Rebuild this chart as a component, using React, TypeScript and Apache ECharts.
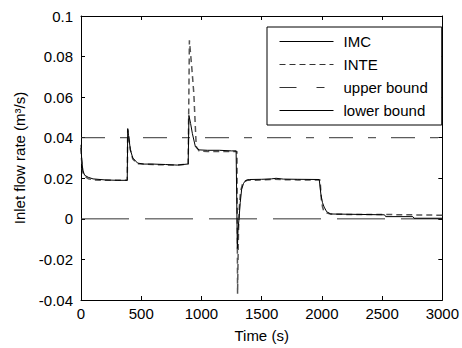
import React, { useEffect, useRef } from "react";
import * as echarts from "echarts";

const seriesNames = ["IMC", "INTE", "upper bound", "lower bound"];

const imcTime = [0, 5, 15, 30, 60, 100, 200, 300, 384, 388, 395, 410, 430, 470, 520, 600, 700, 800, 882, 890, 896, 910, 925, 950, 980, 1050, 1150, 1250, 1288, 1298, 1304, 1312, 1322, 1334, 1350, 1362, 1380, 1400, 1500, 1580, 1620, 1680, 1800, 1978, 1992, 2005, 2019, 2040, 2074, 2300, 2520, 2530, 2755, 2765, 3000];
const imcValue = [0.0365, 0.03, 0.024, 0.0215, 0.0205, 0.0197, 0.0192, 0.019, 0.019, 0.0445, 0.041, 0.034, 0.03, 0.0275, 0.027, 0.027, 0.0268, 0.0265, 0.027, 0.027, 0.051, 0.047, 0.042, 0.0355, 0.034, 0.0338, 0.0338, 0.0335, 0.0335, -0.0146, -0.005, 0.0, 0.008, 0.0146, 0.0175, 0.0186, 0.0192, 0.0194, 0.0195, 0.0197, 0.02, 0.0196, 0.0195, 0.0194, 0.012, 0.008, 0.0058, 0.0035, 0.0024, 0.0022, 0.002, 0.0011, 0.0011, 0.0003, 0.0003];

const inteTime = [0, 5, 15, 30, 60, 100, 200, 300, 384, 388, 395, 410, 430, 470, 520, 600, 700, 800, 880, 890, 900, 920, 937, 945, 957, 980, 1050, 1150, 1250, 1295, 1300, 1304, 1308, 1315, 1325, 1340, 1360, 1380, 1400, 1500, 1600, 1700, 1800, 1900, 1985, 1995, 2005, 2015, 2035, 2070, 2200, 2500, 2700, 3000];
const inteValue = [0.035, 0.029, 0.023, 0.021, 0.0198, 0.0192, 0.019, 0.019, 0.019, 0.044, 0.041, 0.034, 0.0295, 0.0272, 0.027, 0.0268, 0.0266, 0.0265, 0.027, 0.027, 0.088, 0.0745, 0.0616, 0.051, 0.0356, 0.0335, 0.0332, 0.0332, 0.0332, 0.0332, -0.037, -0.02, -0.005, 0.006, 0.0135, 0.017, 0.0185, 0.019, 0.019, 0.0192, 0.0195, 0.0193, 0.0192, 0.0192, 0.0192, 0.01, 0.006, 0.004, 0.003, 0.0024, 0.0022, 0.0022, 0.002, 0.0018];

const boundTime = [0, 3000];
const upperBound = [0.04, 0.04];
const lowerBound = [0, 0];

const xTicks = { min: 0, max: 3000, interval: 500 };
const yTicks = { min: -0.04, max: 0.1, interval: 0.02 };

const zip = (t: number[], v: number[]) => t.map((x, i) => [x, v[i]]);

const FONT = "'Liberation Sans', Arial, sans-serif";

export default function App() {
  const ref = useRef<HTMLDivElement>(null);
  useEffect(() => {
    if (!ref.current) return;
    const chart = echarts.init(ref.current, undefined, { renderer: "svg" });
    const axisCommon = {
      type: "value" as const,
      axisLine: { show: true, onZero: false, lineStyle: { color: "#000", width: 1 } },
      axisTick: { show: true, inside: true, length: 4, lineStyle: { color: "#000" } },
      splitLine: { show: false },
    };
    chart.setOption({
      animation: false,
      backgroundColor: "#fff",
      textStyle: { fontFamily: FONT },
      grid: { left: 81, right: 16, top: 16, bottom: 44, containLabel: false },
      legend: {
        orient: "vertical",
        left: 267,
        top: 27,
        itemWidth: 54,
        itemHeight: 16,
        itemGap: 8,
        padding: [7, 14, 7, 12],
        backgroundColor: "#fff",
        borderColor: "#000",
        borderWidth: 1,
        borderRadius: 0,
        selectedMode: false,
        itemStyle: { opacity: 0 },
        lineStyle: { width: 1 },
        textStyle: { fontSize: 15, color: "#000", fontFamily: FONT, padding: [0, 0, 0, 5] },
        data: [
          { name: seriesNames[0], lineStyle: { width: 1, color: "#000" } },
          { name: seriesNames[1], lineStyle: { width: 1, color: "#333" } },
          { name: seriesNames[2], lineStyle: { width: 1, type: [17, 20, 8, 20] } },
          { name: seriesNames[3], lineStyle: { width: 1, type: "solid", color: "#000" } },
        ],
      },
      xAxis: [
        {
          ...axisCommon,
          ...xTicks,
          position: "bottom",
          axisLabel: {
            fontSize: 15,
            color: "#000",
            margin: 6,
            fontFamily: FONT,
            formatter: (v: number) => String(v),
          },
          name: "Time (s)",
          nameLocation: "middle",
          nameGap: 28,
          nameTextStyle: { fontSize: 15, color: "#000", fontFamily: FONT },
        },
        {
          ...axisCommon,
          ...xTicks,
          position: "top",
          axisLabel: { show: false },
        },
      ],
      yAxis: [
        {
          ...axisCommon,
          ...yTicks,
          position: "left",
          axisLabel: {
            fontSize: 15,
            color: "#000",
            margin: 8,
            fontFamily: FONT,
            formatter: (v: number) => String(Math.round(v * 100) / 100),
          },
          name: "Inlet flow rate (m³/s)",
          nameLocation: "middle",
          nameGap: 54,
          nameTextStyle: { fontSize: 15, color: "#000", fontFamily: FONT },
        },
        {
          ...axisCommon,
          ...yTicks,
          position: "right",
          axisLabel: { show: false },
        },
      ],
      series: [
        {
          name: seriesNames[2],
          type: "line",
          symbol: "none",
          data: zip(boundTime, upperBound),
          lineStyle: { color: "#333", width: 1, type: [24, 15, 8, 15] },
          itemStyle: { color: "#333" },
          z: 1,
        },
        {
          name: seriesNames[3],
          type: "line",
          symbol: "none",
          data: zip(boundTime, lowerBound),
          lineStyle: { color: "#333", width: 1, type: [48, 16] },
          itemStyle: { color: "#333" },
          z: 1,
        },
        {
          name: seriesNames[1],
          type: "line",
          symbol: "none",
          data: zip(inteTime, inteValue),
          lineStyle: { color: "#555", width: 1.5, type: [6, 4] },
          itemStyle: { color: "#555" },
          z: 2,
        },
        {
          name: seriesNames[0],
          type: "line",
          symbol: "none",
          data: zip(imcTime, imcValue),
          lineStyle: { color: "#000", width: 1, type: "solid" },
          itemStyle: { color: "#000" },
          z: 3,
        },
      ],
    });
    return () => chart.dispose();
  }, []);
  return (
    <div
      ref={ref}
      style={{ position: "fixed", left: 0, top: 0, width: 462, height: 348, background: "#fff" }}
    />
  );
}
